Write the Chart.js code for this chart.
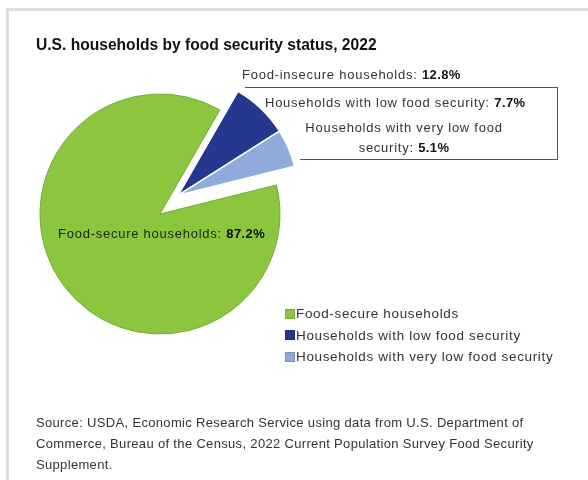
<!DOCTYPE html>
<html>
<head>
<meta charset="utf-8">
<script src="https://cdn.jsdelivr.net/npm/chart.js@4/dist/chart.umd.min.js"></script>
<style>
  html, body { margin: 0; padding: 0; background: #fff; }
  body { width: 588px; height: 480px; position: relative; overflow: hidden;
         font-family: 'Liberation Sans', Arial, sans-serif; color: #333; }
  .frame { position: absolute; left: 6px; top: 8px; width: 600px; height: 500px;
           border-top: 3px solid #dedede; border-left: 3px solid #dedede; }
  #pie { position: absolute; left: 0; top: 0; }
  .t { position: absolute; white-space: nowrap; }
  .title { left: 36px; top: 36px; font-size: 15.6px; font-weight: bold; color: #111; }
  .lbl { font-size: 13px; letter-spacing: 0.75px; color: #333; line-height: 20px; }
  .lbl b { color: #111; letter-spacing: 0.4px; }
  .box { position: absolute; border-color: #555; border-style: solid; }
  .legend { position: absolute; left: 285px; top: 303px; font-size: 13.5px; letter-spacing: 0.65px; color: #333; }
  .legend div { height: 21.5px; line-height: 21.5px; display: flex; align-items: center; }
  .legend span.sw { display: inline-block; width: 8px; height: 8px; margin-right: 1px;
                    border: 1px solid rgba(0,0,0,0.15); }
  .source { left: 36px; top: 412px; font-size: 13px; letter-spacing: 0.33px; line-height: 21px; color: #333; }
</style>
</head>
<body>
<div class="frame"></div>
<canvas id="pie" width="588" height="480"></canvas>
<div class="t title">U.S. households by food security status, 2022</div>
<div id="labels"></div>
<div class="legend" id="legend"></div>
<div class="t source">Source: USDA, Economic Research Service using data from U.S. Department of<br>Commerce, Bureau of the Census, 2022 Current Population Survey Food Security<br>Supplement.</div>
<script>
  const categories = ['Food-secure households', 'Households with low food security', 'Households with very low food security'];
  const shares = [87.2, 7.7, 5.1];
  const foodInsecureShare = 12.8;
  const colors = ['#8cc63f', '#26378f', '#8fabdc'];
  const exploded = [false, true, true];

  // callout texts
  const labelLayer = document.getElementById('labels');
  function addLabel(html, css) {
    const d = document.createElement('div');
    d.className = 't lbl';
    d.innerHTML = html;
    Object.assign(d.style, css);
    labelLayer.appendChild(d);
  }
  addLabel('Food-insecure households: <b>' + foodInsecureShare + '%</b>', { left: '242px', top: '65px' });
  addLabel('Households with low food security: <b>' + shares[1] + '%</b>', { left: '265px', top: '93px' });
  addLabel('Households with very low food<br>security: <b>' + shares[2] + '%</b>',
           { left: '404px', top: '118px', transform: 'translateX(-50%)', textAlign: 'center' });
  addLabel('Food-secure households: <b>' + shares[0] + '%</b>', { left: '58px', top: '224px', color: '#1d2414' });

  // box around the low / very low callouts
  function addLine(css) {
    const d = document.createElement('div');
    d.className = 'box';
    Object.assign(d.style, css);
    labelLayer.appendChild(d);
  }
  addLine({ left: '245px', top: '87px', width: '312px', height: '72px', borderWidth: '1.5px 1.5px 0 0' });
  addLine({ left: '300px', top: '159px', width: '258px', height: '0', borderWidth: '1.5px 0 0 0' });

  // legend
  const legendEl = document.getElementById('legend');
  categories.forEach((c, i) => {
    const row = document.createElement('div');
    row.innerHTML = '<span class="sw" style="background:' + colors[i] + '"></span>' + c;
    legendEl.appendChild(row);
  });

  // pull the food-insecure slices out together, as one group
  const groupExplode = {
    id: 'groupExplode',
    afterUpdate(chart) {
      const dist = 26, ang = 44 * Math.PI / 180;
      chart.getDatasetMeta(0).data.forEach((arc, i) => {
        if (!exploded[i]) return;
        arc.x += Math.sin(ang) * dist;
        arc.y -= Math.cos(ang) * dist;
      });
    }
  };

  new Chart(document.getElementById('pie'), {
    type: 'pie',
    data: {
      labels: categories,
      datasets: [{
        data: shares,
        backgroundColor: colors,
        borderColor: ['#76a83a', '#ffffff', '#ffffff'],
        borderWidth: [1, 1.5, 1.5],
      }]
    },
    options: {
      responsive: false,
      animation: false,
      rotation: 76,
      radius: 120,
      layout: { padding: { left: 10, right: 278, top: 60, bottom: 112 } },
      plugins: {
        legend: { display: false },
        tooltip: { enabled: false },
      }
    },
    plugins: [groupExplode]
  });
</script>
</body>
</html>
